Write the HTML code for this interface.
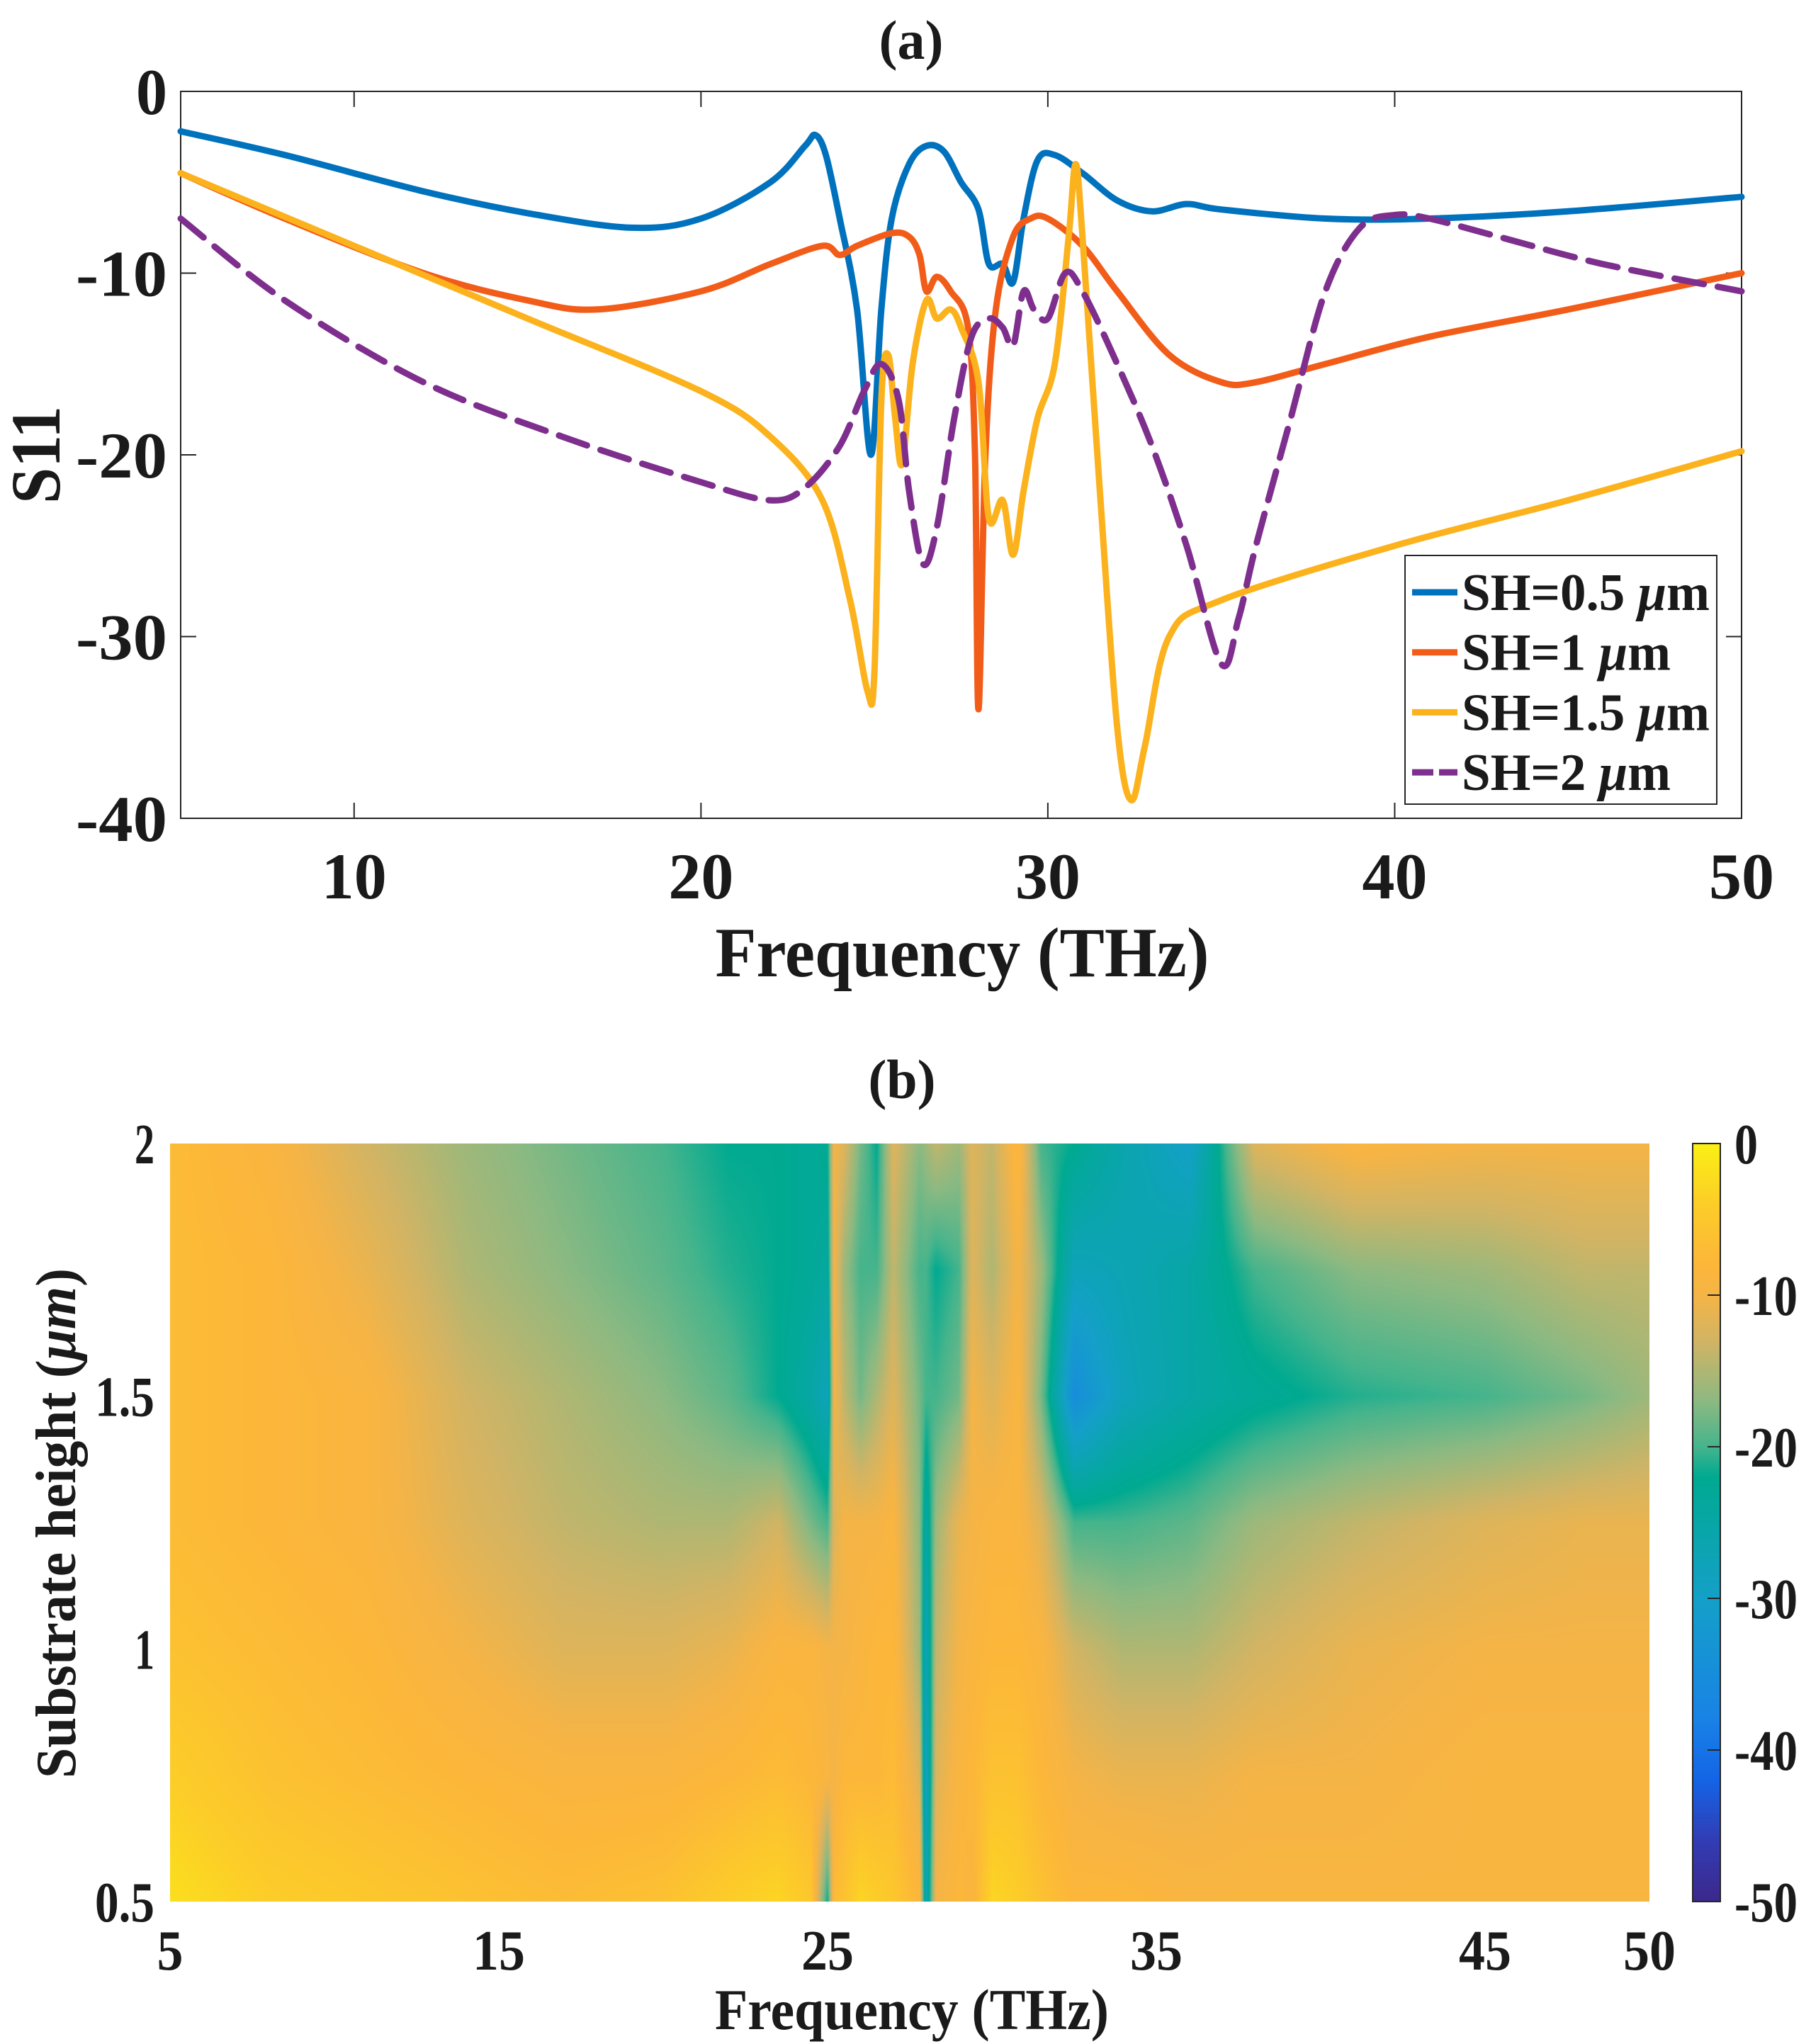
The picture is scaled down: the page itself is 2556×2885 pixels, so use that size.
<!DOCTYPE html>
<html><head><meta charset="utf-8"><style>
html,body{margin:0;padding:0;background:#fff;}
svg text{font-family:"Liberation Serif",serif;font-weight:bold;fill:#1a1a1a;}
#wrap{position:relative;width:2556px;height:2885px;}
#heat{position:absolute;left:240px;top:1614px;}
#cbar{position:absolute;left:2389px;top:1614px;}
#svg{position:absolute;left:0;top:0;}
</style></head><body>
<div id="wrap">
<canvas id="heat" width="2088" height="1070"></canvas>
<canvas id="cbar" width="39" height="1070"></canvas>
<svg id="svg" width="2556" height="2885"></svg>
</div>
<script>
// ---- Panel (a) data ----
const blueF=[5,8,12,15,18,20,22,23,23.3,23.6,24,24.5,24.9,25.2,25.5,26,26.5,27,27.5,28,28.3,28.7,29,29.3,29.7,30.2,31,32,33,34,35,38,41,45,50];
const blueV=[-2.2,-3.5,-5.5,-6.7,-7.5,-7.0,-5.0,-3.0,-2.4,-3.5,-7,-12,-20,-12,-7,-4,-3.0,-3.3,-5,-6.5,-9.5,-9.5,-10.5,-7,-3.8,-3.5,-4.5,-6,-6.6,-6.2,-6.5,-7,-7,-6.6,-5.8];
const redF=[5,8,12,15,17,20,22,23.5,24,24.5,25.5,26,26.3,26.5,26.8,27.2,27.7,27.9,28.0,28.2,28.5,29,29.5,30,31,32,33.5,35,36,38,41,45,50];
const redV=[-4.5,-7,-10,-11.5,-12,-11,-9.5,-8.5,-9,-8.5,-7.8,-8,-9,-11,-10.2,-11,-13,-20,-34,-20,-12,-8,-7,-7,-8.5,-11,-14.5,-16,-16,-15,-13.5,-12,-10];
const yelF=[5,10,15,20,22,23.5,24.3,24.8,25.0,25.2,25.4,25.6,25.8,26.1,26.5,26.8,27.2,27.5,28,28.3,28.7,29,29.3,29.7,30.2,30.6,30.8,31,31.5,32,32.4,32.8,33.5,35,40,45,50];
const yelV=[-4.5,-8.5,-12.5,-16.5,-19,-22.5,-28,-33,-32,-17,-14.5,-18,-20.5,-15,-11.5,-12.5,-12,-13,-16,-23.5,-22.5,-25.5,-22,-18,-15,-8,-4,-8,-22,-35,-39,-36,-30,-28,-25,-22.5,-19.8];
const purF=[5,8,12,16,20,22,23,24,24.7,25.2,25.7,26,26.4,26.8,27.3,27.8,28.3,28.7,29,29.3,29.6,30,30.5,31,32,33,34,35,35.5,36,37,38,39,40,41,43,46,50];
const purV=[-7,-11.5,-16,-19,-21.5,-22.5,-21.8,-19.5,-16.5,-15,-17,-22,-26,-24,-18,-13.5,-12.5,-13,-14,-11,-12,-12.5,-10,-11,-15,-19.5,-25,-31.5,-29,-25,-18,-11,-7.5,-6.8,-7,-8,-9.5,-11];
const xTicksA=[10,20,30,40,50];
const yTicksA=[0,-10,-20,-30,-40];
const legendLabels=["SH=0.5 ","SH=1 ","SH=1.5 ","SH=2 "];

// ---- Panel (b) data ----
const hRows=[0.5,0.75,1,1.25,1.5,1.75,2];
const fCols=[5,8,11,14,17,20,22,23.5,24.5,25,25.2,25.5,26,26.5,27,27.8,28,28.3,29,29.4,30,30.8,31.5,32.5,34,36,38,41,45,48,50];
const S=[
[-2,-4,-6,-7,-7,-7,-7],
[-4,-6,-7,-8,-8,-8,-9],
[-5,-7,-8,-9,-9,-11,-13],
[-6,-8,-10,-12,-13,-15,-16],
[-7,-9,-12,-14,-15,-17,-18],
[-6,-9,-12,-15,-17,-19,-20],
[-4,-8,-11,-15,-19,-21,-22],
[-3,-7,-9,-13,-22,-22,-22],
[-5,-8,-9,-18,-25,-23,-23],
[-22,-9,-10,-20,-28,-24,-22],
[-7,-10,-10,-12,-10,-10,-10],
[-6,-8,-10,-10,-14,-16,-12],
[-3,-8,-9,-10,-18,-20,-18],
[-4,-8,-8,-10,-15,-20,-22],
[-5,-7,-8,-9,-12,-14,-12],
[-8,-12,-16,-17,-18,-20,-17],
[-28,-30,-28,-25,-20,-20,-16],
[-10,-12,-14,-16,-20,-22,-14],
[-8,-9,-10,-11,-18,-20,-16],
[-9,-8,-9,-10,-10,-12,-12],
[-3,-6,-8,-9,-12,-15,-14],
[-4,-6,-8,-9,-9,-10,-8],
[-6,-8,-9,-12,-18,-16,-20],
[-8,-10,-13,-20,-35,-28,-22],
[-8,-11,-15,-20,-28,-27,-26],
[-9,-11,-15,-19,-25,-25,-30],
[-9,-10,-13,-16,-23,-20,-12],
[-9,-10,-11,-14,-21,-17,-9],
[-9,-9,-10,-12,-20,-16,-10],
[-9,-9,-10,-11,-18,-14,-10],
[-9,-9,-10,-11,-16,-14,-10]];
const xTicksB=[5,15,25,35,45,50];
const yTicksB=[0.5,1,1.5,2];
const cbTicks=[0,-10,-20,-30,-40,-50];
const cmapV=[0,-4,-8,-10,-13,-17,-20,-22,-30,-38,-42,-46,-50];
const cmapC=[[250,240,20],[252,205,40],[252,182,58],[245,180,70],[210,180,100],[140,185,130],[70,180,140],[0,170,145],[20,160,200],[25,130,230],[20,100,230],[50,60,180],[60,40,140]];

const NS="http://www.w3.org/2000/svg";
const svg=document.getElementById('svg');
function mk(tag,attrs,parent){const e=document.createElementNS(NS,tag);for(const k in attrs)e.setAttribute(k,attrs[k]);(parent||svg).appendChild(e);return e;}

// axes (a)
const AX={l:255,r:2458,t:129,b:1155};
const xa=f=>AX.l+(f-5)/45*(AX.r-AX.l);
const ya=v=>AX.t+(-v)/40*(AX.b-AX.t);
const titleA=mk('text',{x:1286,y:83,'text-anchor':'middle','font-size':78});
titleA.textContent='(a)';


const gA=mk('g',{});


mk('rect',{x:AX.l,y:AX.t,width:AX.r-AX.l,height:AX.b-AX.t,fill:'#fff',stroke:'#262626','stroke-width':2},gA);
xTicksA.forEach(t=>{
  mk('line',{x1:xa(t),x2:xa(t),y1:AX.b,y2:AX.b-22,stroke:'#262626','stroke-width':2},gA);
  mk('line',{x1:xa(t),x2:xa(t),y1:AX.t,y2:AX.t+22,stroke:'#262626','stroke-width':2},gA);
  const tx=mk('text',{x:xa(t),y:1268,'text-anchor':'middle','font-size':92,textLength:92,lengthAdjust:'spacingAndGlyphs'},gA);
  tx.textContent=t;
  
  
});
yTicksA.forEach(t=>{
  mk('line',{x1:AX.l,x2:AX.l+22,y1:ya(t),y2:ya(t),stroke:'#262626','stroke-width':2},gA);
  mk('line',{x1:AX.r,x2:AX.r-22,y1:ya(t),y2:ya(t),stroke:'#262626','stroke-width':2},gA);
  const s=String(t);
  const tx=mk('text',{x:236,y:ya(t)+32,'text-anchor':'end','font-size':92,textLength:s.length===1?44:129,lengthAdjust:'spacingAndGlyphs'},gA);
  tx.textContent=s;
  
  
});
function smoothPath(P){
  let d='M'+P[0][0].toFixed(1)+','+P[0][1].toFixed(1);
  for(let i=0;i<P.length-1;i++){
    const p0=P[Math.max(0,i-1)],p1=P[i],p2=P[i+1],p3=P[Math.min(P.length-1,i+2)];
    const k=1/6;
    const c1=[p1[0]+(p2[0]-p0[0])*k,p1[1]+(p2[1]-p0[1])*k];
    const c2=[p2[0]-(p3[0]-p1[0])*k,p2[1]-(p3[1]-p1[1])*k];
    d+=' C'+c1[0].toFixed(1)+','+c1[1].toFixed(1)+' '+c2[0].toFixed(1)+','+c2[1].toFixed(1)+' '+p2[0].toFixed(1)+','+p2[1].toFixed(1);
  }
  return d;
}
function series(F,V,color,name,dash){
  const P=F.map((f,i)=>[xa(f),ya(V[i])]);
  const p=mk('path',{d:smoothPath(P),fill:'none',stroke:color,'stroke-width':9,'stroke-linejoin':'round','stroke-linecap':'round'},gA);
  if(dash)p.setAttribute('stroke-dasharray',dash);
  
  
}
series(blueF,blueV,'#0072bd','series-sh-0-5');
series(redF,redV,'#f25c19','series-sh-1');
series(yelF,yelV,'#fbb21c','series-sh-1-5');
series(purF,purV,'#7e2f8e','series-sh-2','42,20');
const xtA=mk('text',{x:1358,y:1378,'text-anchor':'middle','font-size':100,textLength:697,lengthAdjust:'spacingAndGlyphs'});
xtA.textContent='Frequency (THz)';


const ytA=mk('text',{x:0,y:0,'text-anchor':'middle','font-size':100,textLength:138,lengthAdjust:'spacingAndGlyphs',transform:'translate(84,642) rotate(-90)'});
ytA.textContent='S11';


// legend
const lg=mk('g',{});


mk('rect',{x:1983,y:784,width:440,height:351,fill:'#fff',stroke:'#262626','stroke-width':2},lg);
const lgCol=['#0072bd','#f25c19','#fbb21c','#7e2f8e'];
const lgW=[350,295,350,295];
legendLabels.forEach((lab,i)=>{
  const y=836+i*84.7;
  const ln=mk('line',{x1:1993,x2:2057,y1:y,y2:y,stroke:lgCol[i],'stroke-width':9},lg);
  if(i===3)ln.setAttribute('stroke-dasharray','30,8');
  const t=mk('text',{x:2063,y:y+25,'font-size':74,textLength:lgW[i],lengthAdjust:'spacingAndGlyphs'},lg);
  t.textContent=lab;
  const ts=mk('tspan',{'font-style':'italic'},t);ts.textContent='μ';
  const ts2=mk('tspan',{},t);ts2.textContent='m';
  
  
});

// ---- panel (b) ----
const BX={l:240,r:2328,t:1614,b:2684};
const xb=f=>BX.l+(f-5)/45*(BX.r-BX.l);
const yb=h=>BX.b-(h-0.5)/1.5*(BX.b-BX.t);
function cmap(v){
  if(v>=cmapV[0])return cmapC[0];
  for(let i=1;i<cmapV.length;i++){if(v>=cmapV[i]){const t=(cmapV[i-1]-v)/(cmapV[i-1]-cmapV[i]);const a=cmapC[i-1],b=cmapC[i];return [a[0]+(b[0]-a[0])*t,a[1]+(b[1]-a[1])*t,a[2]+(b[2]-a[2])*t];}}
  return cmapC[cmapC.length-1];
}
function interp1(arr,x){let i=0;while(i<arr.length-2&&x>arr[i+1])i++;const t=Math.max(0,Math.min(1,(x-arr[i])/(arr[i+1]-arr[i])));return [i,t];}
const hc=document.getElementById('heat'),ctx=hc.getContext('2d');
const W=hc.width,H=hc.height,img=ctx.createImageData(W,H);
for(let px=0;px<W;px++){
  const f=5+(px+0.5)/W*45;const [ci,ct]=interp1(fCols,f);
  for(let py=0;py<H;py++){
    const h=2-(py+0.5)/H*1.5;const [ri,rt]=interp1(hRows,h);
    const v=(S[ci][ri]*(1-rt)+S[ci][ri+1]*rt)*(1-ct)+(S[ci+1][ri]*(1-rt)+S[ci+1][ri+1]*rt)*ct;
    const c=cmap(v);const k=(py*W+px)*4;img.data[k]=c[0];img.data[k+1]=c[1];img.data[k+2]=c[2];img.data[k+3]=255;
  }
}
ctx.putImageData(img,0,0);
const cb=document.getElementById('cbar'),cc=cb.getContext('2d');
for(let py=0;py<cb.height;py++){const c=cmap(-(py+0.5)/cb.height*50);cc.fillStyle='rgb('+c.map(Math.round).join(',')+')';cc.fillRect(0,py,cb.width,1);}
const gB=mk('g',{});


mk('rect',{x:2389,y:BX.t,width:39,height:BX.b-BX.t,fill:'none',stroke:'#262626','stroke-width':2},gB);
const titleB=mk('text',{x:1273,y:1550,'text-anchor':'middle','font-size':78});
titleB.textContent='(b)';


xTicksB.forEach(t=>{
  const tx=mk('text',{x:xb(t),y:2780,'text-anchor':'middle','font-size':80,textLength:String(t).length*37,lengthAdjust:'spacingAndGlyphs'},gB);
  tx.textContent=t;
  
  
});
yTicksB.forEach(t=>{
  const s=String(t);
  const tx=mk('text',{x:218,y:yb(t)+28,'text-anchor':'end','font-size':80,textLength:s.length*28,lengthAdjust:'spacingAndGlyphs'},gB);
  tx.textContent=s;
  
  
});
cbTicks.forEach(t=>{
  const y=BX.t+(-t)/50*(BX.b-BX.t);
  mk('line',{x1:2410,x2:2428,y1:y,y2:y,stroke:'#262626','stroke-width':2},gB);
  const s=String(t);
  const tx=mk('text',{x:2448,y:y+28,'font-size':80,textLength:s.length===1?33:89,lengthAdjust:'spacingAndGlyphs'},gB);
  tx.textContent=s;
  
  
});
const xtB=mk('text',{x:1287,y:2864,'text-anchor':'middle','font-size':82,textLength:556,lengthAdjust:'spacingAndGlyphs'});
xtB.textContent='Frequency (THz)';


const ytB=mk('text',{x:0,y:0,'text-anchor':'middle','font-size':80,textLength:720,lengthAdjust:'spacingAndGlyphs',transform:'translate(106,2150) rotate(-90)'});
ytB.textContent='Substrate height (';
const mu=mk('tspan',{'font-style':'italic'},ytB);mu.textContent='μm';
const cl=mk('tspan',{},ytB);cl.textContent=')';


</script>
</body></html>
